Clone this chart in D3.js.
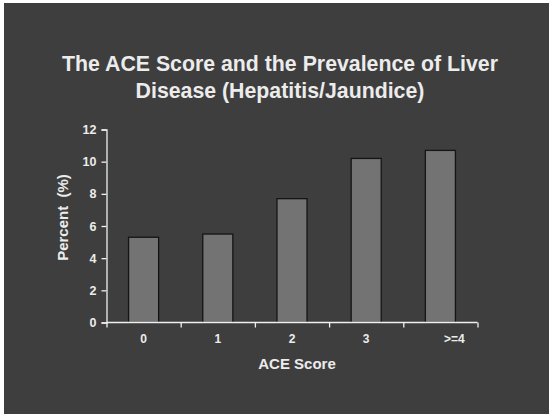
<!DOCTYPE html>
<html><head><meta charset="utf-8">
<script src="https://cdn.jsdelivr.net/npm/d3@7/dist/d3.min.js"></script>
<style>
html,body{margin:0;padding:0;background:#fff;}
svg{display:block;}
text{font-family:"Liberation Sans",Arial,Helvetica,sans-serif;font-weight:bold;fill:#ececec;white-space:pre;}
</style></head>
<body>
<svg id="chart" width="549" height="415"></svg>
<script>
const categories = ["0", "1", "2", "3", ">=4"];
const values = [5.3, 5.5, 7.7, 10.2, 10.7];
const yTicks = [0, 2, 4, 6, 8, 10, 12];
const titleLines = ["The ACE Score and the Prevalence of Liver", "Disease (Hepatitis/Jaundice)"];
const xTitle = "ACE Score";
const yTitle = "Percent  (%)";

const svg = d3.select("#chart");
svg.append("rect").attr("x", 4).attr("y", 3).attr("width", 545).attr("height", 411).attr("fill", "#3e3e3e");

const pLeft = 106.5, pRight = 477.5, pTop = 129.5, pBottom = 322.5;
const x = d3.scaleBand().domain(categories).range([pLeft, pRight]).padding(0);
const y = d3.scaleLinear().domain([0, 12]).range([pBottom, pTop]);
const barW = x.bandwidth() * 0.405;

// title
svg.append("g").selectAll("text").data(titleLines).join("text")
  .attr("x", 280).attr("y", (d, i) => 70.8 + i * 26.7)
  .attr("text-anchor", "middle").style("font-size", "21.3px").text(d => d);

// bars
svg.append("g").selectAll("rect").data(values).join("rect")
  .attr("x", (d, i) => x(categories[i]) + (x.bandwidth() - barW) / 2)
  .attr("y", d => y(d))
  .attr("width", barW)
  .attr("height", d => y(0) - y(d))
  .attr("fill", "#737373").attr("stroke", "#151515").attr("stroke-width", 1.3);

// y axis
const yAxis = svg.append("g").attr("transform", `translate(${pLeft},0)`)
  .call(d3.axisLeft(y).tickValues(yTicks).tickSize(5).tickPadding(5).tickFormat(d3.format("d")));
yAxis.selectAll("path,line").attr("stroke", "#f0f0f0").attr("stroke-width", 1.3);
yAxis.selectAll("text").style("font-size", "12.5px").attr("fill", "#ececec").style("font-family", null);

// x axis boundary ticks
const xb = d3.scaleLinear().domain([0, categories.length]).range([pLeft, pRight]);
const xAxis = svg.append("g").attr("transform", `translate(0,${pBottom})`)
  .call(d3.axisBottom(xb).ticks(categories.length).tickSize(5).tickFormat(""));
xAxis.selectAll("path,line").attr("stroke", "#f0f0f0").attr("stroke-width", 1.3);
xAxis.select("path").attr("d", `M${pLeft},0H${pRight}`);

// x labels
const xl = svg.append("g").attr("transform", `translate(0,${pBottom})`)
  .call(d3.axisBottom(x).tickSize(0).tickPadding(12));
xl.select("path").remove();
xl.selectAll("text").style("font-size", "12px").attr("fill", "#ececec").style("font-family", null)
  .attr("dx", (d, i) => i === categories.length - 1 ? 14 : 0);

// axis titles
svg.append("text").attr("x", 297).attr("y", 369).attr("text-anchor", "middle")
  .style("font-size", "15px").text(xTitle);
svg.append("text").attr("transform", "translate(67.5,217.5) rotate(-90)").attr("text-anchor", "middle")
  .style("font-size", "15px").text(yTitle);
</script>
</body></html>
